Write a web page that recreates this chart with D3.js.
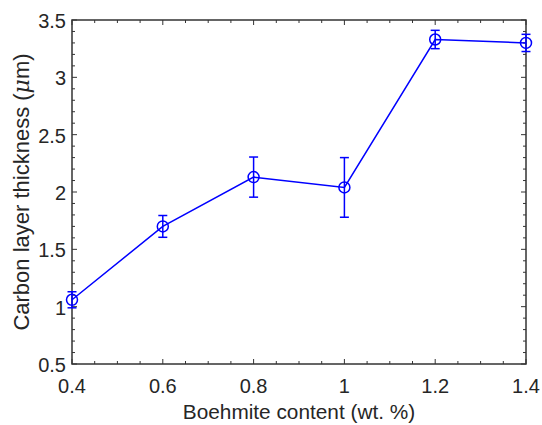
<!DOCTYPE html>
<html>
<head>
<meta charset="utf-8">
<script src="https://cdn.jsdelivr.net/npm/d3@7"></script>
<style>
  body { margin: 0; background: #fff; }
  text { font-family: "Liberation Sans", Arial, sans-serif; fill: #262626; }
</style>
</head>
<body>
<div id="chart"></div>
<script>
// ---------------------------------- DATA ---------------------------------- //

let content = [0.4, 0.6, 0.8, 1.0, 1.2, 1.4];
let thickness = [1.06, 1.70, 2.13, 2.04, 3.33, 3.30];
let error = [0.07, 0.095, 0.175, 0.26, 0.08, 0.075];
let x_ticks = [0.4, 0.6, 0.8, 1, 1.2, 1.4];
let y_ticks = [0.5, 1, 1.5, 2, 2.5, 3, 3.5];

// ---------------------------------- SETTINGS ---------------------------------- //

let img_width = 542;
let img_height = 425;
let margin = { left: 72, right: 16, top: 20, bottom: 61 };
let axis_color = '#333333';
let line_color = '#0000ff';

let svg = d3.select('#chart').append('svg')
  .attr('width', img_width)
  .attr('height', img_height);

let x = d3.scaleLinear().domain([0.4, 1.4]).range([margin.left, img_width - margin.right]);
let y = d3.scaleLinear().domain([0.5, 3.5]).range([img_height - margin.bottom, margin.top]);

let x0 = x.range()[0], x1 = x.range()[1];
let y0 = y.range()[0], y1 = y.range()[1];

// ---------------------------------- TICKS ---------------------------------- //

let g_axes = svg.append('g');
let x_minor = d3.range(0, 21).map(i => 0.4 + i * 0.05);
let y_minor = d3.range(0, 31).map(i => 0.5 + i * 0.1);

x_minor.forEach((v, i) => {
  let len = i % 4 === 0 ? 5 : 3;
  g_axes.append('line').attr('x1', x(v)).attr('x2', x(v)).attr('y1', y0).attr('y2', y0 - len)
    .attr('stroke', axis_color).attr('stroke-width', 1);
  g_axes.append('line').attr('x1', x(v)).attr('x2', x(v)).attr('y1', y1).attr('y2', y1 + len)
    .attr('stroke', axis_color).attr('stroke-width', 1);
});
y_minor.forEach((v, i) => {
  let len = i % 5 === 0 ? 5 : 3;
  g_axes.append('line').attr('x1', x0).attr('x2', x0 + len).attr('y1', y(v)).attr('y2', y(v))
    .attr('stroke', axis_color).attr('stroke-width', 1);
  g_axes.append('line').attr('x1', x1).attr('x2', x1 - len).attr('y1', y(v)).attr('y2', y(v))
    .attr('stroke', axis_color).attr('stroke-width', 1);
});

g_axes.append('rect')
  .attr('x', x0).attr('y', y1)
  .attr('width', x1 - x0).attr('height', y0 - y1)
  .attr('fill', 'none').attr('stroke', axis_color).attr('stroke-width', 1.5);

svg.selectAll('.xlab').data(x_ticks).enter().append('text')
  .attr('x', d => x(d)).attr('y', y0 + 29)
  .attr('text-anchor', 'middle').attr('font-size', 20)
  .text(d => d);

svg.selectAll('.ylab').data(y_ticks).enter().append('text')
  .attr('x', x0 - 6).attr('y', d => y(d) + 8)
  .attr('text-anchor', 'end').attr('font-size', 20)
  .text(d => d);

svg.append('text')
  .attr('x', (x0 + x1) / 2).attr('y', 419)
  .attr('text-anchor', 'middle').attr('font-size', 20.8)
  .text('Boehmite content (wt. %)');

let ylab = svg.append('text')
  .attr('transform', `translate(29,${(y0 + y1) / 2}) rotate(-90)`)
  .attr('text-anchor', 'middle').attr('font-size', 22);
ylab.append('tspan').text('Carbon layer thickness (');
ylab.append('tspan').attr('font-style', 'italic').attr('font-family', '"DejaVu Serif", serif').text('μ');
ylab.append('tspan').text('m)');

// ---------------------------------- SERIES ---------------------------------- //

let pts = content.map((c, i) => ({ c: c, t: thickness[i], e: error[i] }));
let g_data = svg.append('g');

g_data.append('path')
  .datum(pts)
  .attr('d', d3.line().x(d => x(d.c)).y(d => y(d.t)))
  .attr('fill', 'none').attr('stroke', line_color).attr('stroke-width', 1.5);

pts.forEach(d => {
  let cx = x(d.c);
  g_data.append('line').attr('x1', cx).attr('x2', cx).attr('y1', y(d.t - d.e)).attr('y2', y(d.t + d.e))
    .attr('stroke', line_color).attr('stroke-width', 1.5);
  [d.t - d.e, d.t + d.e].forEach(v => {
    g_data.append('line').attr('x1', cx - 4.5).attr('x2', cx + 4.5).attr('y1', y(v)).attr('y2', y(v))
      .attr('stroke', line_color).attr('stroke-width', 1.5);
  });
  g_data.append('circle').attr('cx', cx).attr('cy', y(d.t)).attr('r', 5.5)
    .attr('fill', 'none').attr('stroke', line_color).attr('stroke-width', 1.5);
});
</script>
</body>
</html>
